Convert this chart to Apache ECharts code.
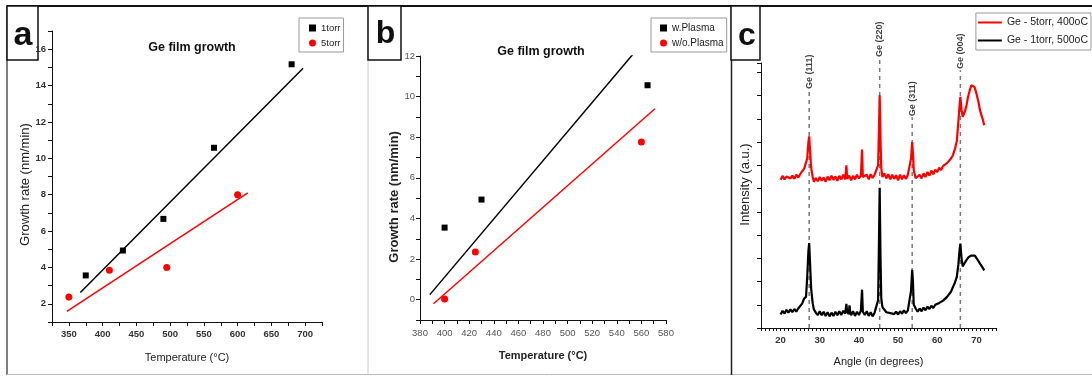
<!DOCTYPE html>
<html>
<head>
<meta charset="utf-8">
<title>Ge film growth</title>
<script src="https://cdn.jsdelivr.net/npm/echarts@6/dist/echarts.min.js"></script>
<style>
  html, body { margin: 0; padding: 0; background: #fff; }
  #chart { width: 1092px; height: 376px; }
</style>
</head>
<body>
<div id="chart"></div>
<script>
// panel a: growth rate vs temperature, two pressures
const tempA1torr = [375, 430, 490, 565, 680];
const rateA1torr = [3.56, 4.93, 6.67, 10.58, 15.17];
const tempA5torr = [350, 410, 495, 600];
const rateA5torr = [2.37, 3.84, 4.0, 8.0];
const fitA1torr = [[367, 2.62], [697, 14.95]];
const fitA5torr = [[347, 1.58], [615, 8.1]];

// panel b: with / without plasma
const tempBPlasma = [400, 430, 565];
const rateBPlasma = [3.55, 4.93, 10.56];
const tempBNoPlasma = [400, 425, 560];
const rateBNoPlasma = [0.03, 2.35, 7.76];
const fitBPlasma = [[388, 0.25], [554, 12.15]];
const fitBNoPlasma = [[391, -0.2], [571, 9.4]];

// panel c: XRD scans (a.u.)
const angleRed = [20.0, 20.5, 21.0, 21.5, 22.0, 22.5, 23.0, 23.5, 24.0, 24.5, 25.0, 25.5, 26.0, 26.5, 26.8, 27.1, 27.3, 27.5, 27.8, 28.2,
  28.5, 29.0, 29.5, 30.0, 30.5, 31.0, 31.5, 32.0, 32.5, 33.0, 33.5, 34.0, 34.5, 35.0, 35.5, 36.0, 36.5, 36.8, 37.0, 37.5,
  38.0, 38.5, 39.0, 39.5, 40.0, 40.5, 40.8, 41.0, 41.5, 42.0, 42.5, 43.0, 43.5, 44.0, 44.5, 44.9, 45.1, 45.3, 45.5, 45.7,
  46.0, 46.5, 47.0, 47.5, 48.0, 48.5, 49.0, 49.5, 50.0, 50.5, 51.0, 51.5, 52.0, 52.5, 53.0, 53.3, 53.6, 53.8, 54.0, 54.5,
  55.0, 55.5, 56.0, 56.5, 57.0, 57.5, 58.0, 58.5, 59.0, 59.5, 60.0, 60.5, 61.0, 61.5, 62.0, 62.5, 63.0, 63.5, 64.0, 64.5,
  65.0, 65.4, 65.7, 65.9, 66.2, 66.5, 67.0, 67.4, 67.8, 68.3, 68.7, 69.1, 69.5, 70.0, 70.5, 70.9, 71.5, 72.0];
const intensRed = [6.38, 6.55, 6.40, 6.52, 6.60, 6.44, 6.56, 6.42, 6.60, 6.48, 6.62, 6.75, 6.85, 6.90, 7.30, 8.00, 8.25, 7.70, 6.90, 6.50,
  6.30, 6.46, 6.32, 6.50, 6.34, 6.48, 6.30, 6.52, 6.36, 6.56, 6.38, 6.52, 6.34, 6.55, 6.40, 6.60, 6.40, 7.00, 6.42, 6.56,
  6.36, 6.55, 6.40, 6.60, 6.44, 6.56, 7.68, 6.50, 6.42, 6.60, 6.40, 6.62, 6.46, 6.60, 6.55, 7.00, 8.50, 10.02, 8.20, 6.90,
  6.50, 6.66, 6.44, 6.62, 6.40, 6.60, 6.42, 6.58, 6.36, 6.60, 6.40, 6.58, 6.42, 6.60, 6.65, 7.30, 8.01, 7.50, 6.80, 6.45,
  6.40, 6.60, 6.44, 6.66, 6.50, 6.72, 6.56, 6.78, 6.62, 6.82, 6.72, 6.90, 6.80, 6.98, 6.92, 7.10, 7.10, 7.30, 7.44, 7.70,
  8.05, 8.90, 9.60, 9.95, 9.40, 9.09, 9.30, 9.52, 9.90, 10.24, 10.45, 10.50, 10.38, 10.10, 9.75, 9.38, 9.05, 8.73];
const angleBlack = [20.0, 20.5, 21.0, 21.5, 22.0, 22.5, 23.0, 23.5, 24.0, 24.5, 25.0, 25.5, 26.0, 26.5, 26.8, 27.1, 27.3, 27.5, 27.8, 28.2,
  28.5, 29.0, 29.5, 30.0, 30.5, 31.0, 31.5, 32.0, 32.5, 33.0, 33.5, 34.0, 34.5, 35.0, 35.5, 36.0, 36.5, 36.8, 37.0, 37.4,
  37.6, 37.8, 38.0, 38.5, 39.0, 39.5, 40.0, 40.5, 40.8, 41.0, 41.5, 42.0, 42.5, 43.0, 43.5, 44.0, 44.5, 44.9, 45.1, 45.3,
  45.5, 45.7, 46.0, 46.5, 47.0, 47.5, 48.0, 48.5, 49.0, 49.5, 50.0, 50.5, 51.0, 51.5, 52.0, 52.5, 53.0, 53.3, 53.6, 53.8,
  54.0, 54.5, 55.0, 55.5, 56.0, 56.5, 57.0, 57.5, 58.0, 58.5, 59.0, 59.5, 60.0, 60.5, 61.0, 61.5, 62.0, 62.5, 63.0, 63.5,
  64.0, 64.5, 65.0, 65.4, 65.7, 65.9, 66.2, 66.5, 67.0, 67.4, 68.0, 68.7, 69.2, 69.6, 70.0, 70.4, 71.0, 71.5, 72.0];
const intensBlack = [0.58, 0.74, 0.62, 0.78, 0.66, 0.80, 0.68, 0.82, 0.70, 0.84, 0.85, 1.05, 1.26, 1.35, 2.20, 3.30, 3.66, 2.90, 1.70, 1.06,
  0.80, 0.66, 0.56, 0.72, 0.55, 0.70, 0.52, 0.68, 0.50, 0.66, 0.52, 0.70, 0.55, 0.72, 0.56, 0.74, 0.62, 1.04, 0.70, 0.60,
  0.97, 0.66, 0.55, 0.72, 0.52, 0.70, 0.56, 0.74, 1.65, 0.70, 0.56, 0.72, 0.52, 0.68, 0.50, 0.66, 0.72, 1.20, 3.50, 6.04,
  3.20, 1.30, 0.90, 0.84, 0.68, 0.76, 0.64, 0.72, 0.60, 0.70, 0.58, 0.72, 0.62, 0.76, 0.64, 0.76, 0.80, 1.60, 2.51, 2.00,
  1.00, 0.84, 0.70, 0.84, 0.72, 0.88, 0.76, 0.92, 0.82, 0.96, 0.86, 1.00, 0.94, 1.08, 1.02, 1.18, 1.16, 1.34, 1.42, 1.56,
  1.76, 1.95, 2.20, 2.75, 3.35, 3.63, 3.00, 2.65, 2.80, 2.91, 3.05, 3.12, 3.14, 3.12, 3.05, 2.91, 2.75, 2.62, 2.48];

const peakNames = ["Ge (111)", "Ge (220)", "Ge (311)", "Ge (004)"];
const peakAngles = [27.3, 45.3, 53.6, 65.9];
const peakLineTop = [10.24, 11.62, 9.07, 11.1];
const peakLabelY = [11.03, 12.43, 9.87, 11.92];

const SANS = "'Liberation Sans', Arial, sans-serif";

const zip = (xs, ys) => xs.map((x, i) => [x, ys[i]]);
const everyOther = (step) => (v) => (Math.abs(v / step - Math.round(v / step)) < 1e-6 ? String(v) : "");

const baseAxis = (extra) => ({
  type: "value",
  splitLine: { show: false },
  axisLine: { onZero: false, lineStyle: { color: "#111", width: 1 } },
  axisTick: { length: 4, lineStyle: { color: "#111" } },
  ...extra,
});

const chart = echarts.init(document.getElementById("chart"));

chart.setOption({
  animation: false,
  backgroundColor: "#fff",
  title: [
    { text: "Ge film growth", left: 187, top: 36, textAlign: "center", textStyle: { fontSize: 12.5, fontWeight: "bold", fontFamily: SANS, color: "#111" } },
    { text: "Ge film growth", left: 536, top: 40, textAlign: "center", textStyle: { fontSize: 12.5, fontWeight: "bold", fontFamily: SANS, color: "#111" } },
  ],
  legend: [
    {
      data: ["1torr", "5torr"], orient: "vertical", left: 299, top: 18,
      borderColor: "#999", borderWidth: 1, padding: [5, 3, 4, 10], itemGap: 5,
      itemWidth: 7, itemHeight: 7, textStyle: { fontSize: 9.5, fontFamily: SANS, color: "#222" },
    },
    {
      data: ["w.Plasma", "w/o.Plasma"], orient: "vertical", left: 651, top: 18,
      borderColor: "#999", borderWidth: 1, padding: [5, 3, 4, 9], itemGap: 5,
      itemWidth: 7, itemHeight: 7, textStyle: { fontSize: 10, fontFamily: SANS, color: "#222" },
    },
    {
      data: [{ name: "Ge - 5torr, 400oC", icon: "rect" }, { name: "Ge - 1torr, 500oC", icon: "rect" }],
      orient: "vertical", right: 1, top: 13,
      borderColor: "#999", borderWidth: 1, padding: [4, 3, 4, 2], itemGap: 7,
      itemWidth: 24, itemHeight: 2, textStyle: { fontSize: 10.5, fontFamily: SANS, color: "#222" },
    },
  ],
  grid: [
    { left: 52, top: 31, width: 270, height: 291 },
    { left: 420, top: 56, width: 246, height: 264 },
    { left: 761, top: 63, width: 235, height: 265 },
  ],
  xAxis: [
    baseAxis({
      gridIndex: 0, min: 325, max: 725, interval: 25,
      name: "Temperature (°C)", nameLocation: "middle", nameGap: 30,
      nameTextStyle: { fontSize: 11, fontFamily: SANS, color: "#222" },
      axisLabel: { formatter: everyOther(50), fontSize: 9.5, fontWeight: "bold", fontFamily: SANS, color: "#333", margin: 7 },
    }),
    baseAxis({
      gridIndex: 1, min: 380, max: 580, interval: 10,
      name: "Temperature (°C)", nameLocation: "middle", nameGap: 30,
      nameTextStyle: { fontSize: 11, fontWeight: "bold", fontFamily: SANS, color: "#222" },
      axisLabel: { formatter: everyOther(20), fontSize: 9.5, fontFamily: SANS, color: "#555", margin: 8 },
    }),
    baseAxis({
      gridIndex: 2, min: 15, max: 75, interval: 1,
      name: "Angle (in degrees)", nameLocation: "middle", nameGap: 28,
      nameTextStyle: { fontSize: 11, fontFamily: SANS, color: "#222" },
      axisTick: { length: 3, lineStyle: { color: "#111" } },
      axisLabel: { formatter: everyOther(10), fontSize: 9.5, fontWeight: "bold", fontFamily: SANS, color: "#333", margin: 7 },
    }),
  ],
  yAxis: [
    baseAxis({
      gridIndex: 0, min: 1, max: 17, interval: 1,
      name: "Growth rate (nm/min)", nameLocation: "middle", nameGap: 19,
      nameTextStyle: { fontSize: 13, fontFamily: SANS, color: "#222", padding: [0, 16, 0, 0] },
      axisLabel: { formatter: everyOther(2), fontSize: 9.5, fontWeight: "bold", fontFamily: SANS, color: "#333", margin: 6 },
    }),
    baseAxis({
      gridIndex: 1, min: -1, max: 12, interval: 1,
      name: "Growth rate (nm/min)", nameLocation: "middle", nameGap: 17,
      nameTextStyle: { fontSize: 13, fontWeight: "bold", fontFamily: SANS, color: "#222", padding: [0, 18, 0, 0] },
      axisLabel: { formatter: everyOther(2), fontSize: 9.5, fontFamily: SANS, color: "#555", margin: 5 },
    }),
    baseAxis({
      gridIndex: 2, min: 0, max: 11.41, interval: 1,
      name: "Intensity (a.u.)", nameLocation: "middle", nameGap: 9,
      nameTextStyle: { fontSize: 13, fontFamily: SANS, color: "#222", padding: [0, 0, 0, 22] },
      axisLabel: { show: false },
    }),
  ],
  series: [
    { name: "1torr", type: "scatter", xAxisIndex: 0, yAxisIndex: 0, symbol: "rect", symbolSize: 6, itemStyle: { color: "#000", opacity: 1 }, data: zip(tempA1torr, rateA1torr) },
    { name: "5torr", type: "scatter", xAxisIndex: 0, yAxisIndex: 0, symbol: "circle", symbolSize: 7, itemStyle: { color: "#f00", opacity: 1 }, data: zip(tempA5torr, rateA5torr) },
    { name: "fit 1torr", type: "line", xAxisIndex: 0, yAxisIndex: 0, symbol: "none", lineStyle: { color: "#000", width: 1.5 }, data: fitA1torr },
    { name: "fit 5torr", type: "line", xAxisIndex: 0, yAxisIndex: 0, symbol: "none", lineStyle: { color: "#f00", width: 1.5 }, data: fitA5torr },

    { name: "w.Plasma", type: "scatter", xAxisIndex: 1, yAxisIndex: 1, symbol: "rect", symbolSize: 6, itemStyle: { color: "#000", opacity: 1 }, data: zip(tempBPlasma, rateBPlasma) },
    { name: "w/o.Plasma", type: "scatter", xAxisIndex: 1, yAxisIndex: 1, symbol: "circle", symbolSize: 7, itemStyle: { color: "#f00", opacity: 1 }, data: zip(tempBNoPlasma, rateBNoPlasma) },
    { name: "fit plasma", type: "line", xAxisIndex: 1, yAxisIndex: 1, symbol: "none", lineStyle: { color: "#000", width: 1.5 }, data: fitBPlasma },
    { name: "fit no plasma", type: "line", xAxisIndex: 1, yAxisIndex: 1, symbol: "none", lineStyle: { color: "#f00", width: 1.5 }, data: fitBNoPlasma },

    ...peakAngles.map((a, i) => ({
      name: "peak " + i, type: "line", xAxisIndex: 2, yAxisIndex: 2, symbol: "none", clip: false,
      lineStyle: { color: "#777", width: 1.5, type: [4, 4] }, data: [[a, 0], [a, peakLineTop[i]]],
    })),
    {
      name: "Ge - 5torr, 400oC", type: "line", xAxisIndex: 2, yAxisIndex: 2, symbol: "none",
      lineStyle: { color: "#f00", width: 2.2 }, itemStyle: { color: "#f00" }, data: zip(angleRed, intensRed),
    },
    {
      name: "Ge - 1torr, 500oC", type: "line", xAxisIndex: 2, yAxisIndex: 2, symbol: "none",
      lineStyle: { color: "#000", width: 2.2 }, itemStyle: { color: "#000" }, data: zip(angleBlack, intensBlack),
    },
    {
      name: "peak labels", type: "scatter", xAxisIndex: 2, yAxisIndex: 2, symbolSize: 1, clip: false,
      itemStyle: { color: "transparent" },
      label: {
        show: true, position: "inside", rotate: 90, formatter: (p) => p.data[2],
        fontSize: 9, fontWeight: "bold", fontFamily: SANS, color: "#111",
      },
      data: peakAngles.map((a, i) => [a, peakLabelY[i], peakNames[i]]),
    },
  ],
  graphic: [
    { type: "line", shape: { x1: 7, y1: 6, x2: 1092, y2: 6 }, style: { stroke: "#111", lineWidth: 2 } },
    { type: "line", shape: { x1: 7, y1: 6, x2: 7, y2: 375 }, style: { stroke: "#555", lineWidth: 1.5 } },
    { type: "line", shape: { x1: 7, y1: 374.5, x2: 1092, y2: 374.5 }, style: { stroke: "#bbb", lineWidth: 1 } },
    { type: "line", shape: { x1: 368, y1: 6, x2: 368, y2: 375 }, style: { stroke: "#ccc", lineWidth: 1 } },
    { type: "line", shape: { x1: 731.5, y1: 6, x2: 731.5, y2: 375 }, style: { stroke: "#222", lineWidth: 1.5 } },
    { type: "rect", shape: { x: 7, y: 6, width: 31, height: 54 }, style: { fill: "#fff", stroke: "#111", lineWidth: 1.5 } },
    { type: "rect", shape: { x: 368, y: 6, width: 33, height: 54 }, style: { fill: "#fff", stroke: "#111", lineWidth: 1.5 } },
    { type: "rect", shape: { x: 731, y: 6, width: 29, height: 54 }, style: { fill: "#fff", stroke: "#111", lineWidth: 1.5 } },
    { type: "text", x: 23, y: 36, style: { text: "a", font: "bold 34px " + SANS, fill: "#111", align: "center", verticalAlign: "middle" } },
    { type: "text", x: 385.5, y: 34, style: { text: "b", font: "bold 32px " + SANS, fill: "#111", align: "center", verticalAlign: "middle" } },
    { type: "text", x: 747, y: 36, style: { text: "c", font: "bold 32px " + SANS, fill: "#111", align: "center", verticalAlign: "middle" } },
  ],
});
</script>
</body>
</html>
